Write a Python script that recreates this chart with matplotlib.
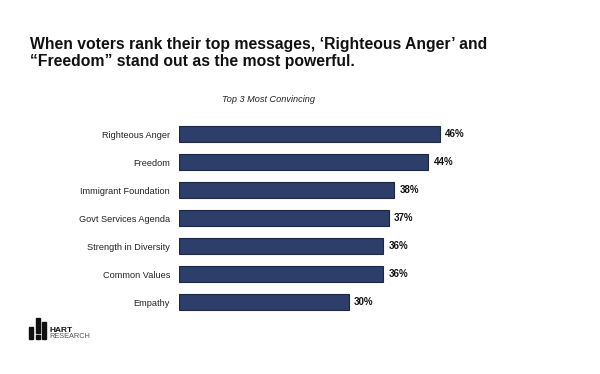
import matplotlib
matplotlib.use("Agg")
import matplotlib.pyplot as plt
from matplotlib.patches import Rectangle

plt.rcParams['font.family'] = ['Liberation Sans', 'DejaVu Sans']

categories = ["Righteous Anger", "Freedom", "Immigrant Foundation", "Govt Services Agenda",
              "Strength in Diversity", "Common Values", "Empathy"]
values = [46, 44, 38, 37, 36, 36, 30]
value_labels = ["46%", "44%", "38%", "37%", "36%", "36%", "30%"]

title = "When voters rank their top messages, \u2018Righteous Anger\u2019 and\n\u201cFreedom\u201d stand out as the most powerful."
subtitle = "Top 3 Most Convincing"

fig = plt.figure(figsize=(6, 3.74), dpi=100)
ax = fig.add_axes([179/600, 1 - 316/374, 341/600, 196/374])

y = list(range(len(categories)))
ax.barh(y, values, height=0.57, color="#2C3E69", edgecolor="#1A2747", linewidth=0.8)
ax.set_xlim(0, 341/5.67)
ax.set_ylim(len(categories) - 0.5, -0.5)
ax.set_yticks(y)
ax.set_yticklabels(categories, fontsize=6.6, color="#222222")
ax.tick_params(axis='y', length=0, pad=6.5)
ax.set_xticks([])
for s in ax.spines.values():
    s.set_visible(False)
for yi, v, lab in zip(y, values, value_labels):
    ax.text(v + 0.9, yi, lab, va='center', ha='left', fontsize=7, fontweight='bold', color="#111111")

fig.text(30/600, 1 - 37.5/374, title, ha='left', va='top', fontsize=11.3, fontweight='bold',
         color="#111111", linespacing=1.13)
fig.text(269/600, 1 - 99/374, subtitle, ha='center', va='center', fontsize=6.6, style='italic', color="#222222")

# logo
H = 374
def frect(x0, y0, x1, y1):
    fig.patches.append(Rectangle((x0/600, 1 - y1/H), (x1 - x0)/600, (y1 - y0)/H,
                                 transform=fig.transFigure, color="#111111", zorder=5))
frect(29, 327, 33, 339)
frect(36, 318, 40, 333)
frect(36, 335, 40, 339)
frect(42, 322, 46, 339)
fig.text(49/600, 1 - 330/H, "HART", ha='left', va='center', fontsize=6, fontweight='bold', color="#111111")
fig.text(49/600, 1 - 337/H, "RESEARCH", ha='left', va='center', fontsize=5.3, color="#555555")

fig.savefig("out.png", dpi=100, facecolor="white")
